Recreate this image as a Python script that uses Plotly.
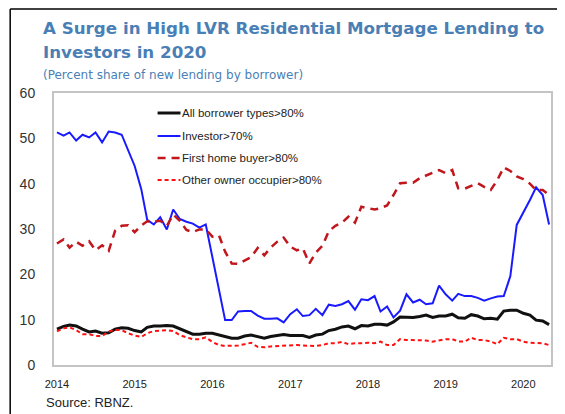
import pandas as pd
import plotly.graph_objects as go

months = pd.date_range("2014-01-01", periods=77, freq="MS")

all_borrower = [
    7.9, 8.5, 8.8, 8.6, 7.9, 7.3, 7.5, 7.0, 7.1, 7.9,
    8.2, 8.1, 7.6, 7.3, 8.3, 8.6, 8.6, 8.7, 8.6, 8.0,
    7.4, 6.8, 6.8, 7.0, 7.0, 6.6, 6.3, 5.9, 5.9, 6.4,
    6.6, 6.3, 5.9, 6.3, 6.5, 6.7, 6.5, 6.5, 6.5, 6.1,
    6.6, 6.8, 7.6, 7.9, 8.4, 8.6, 8.0, 8.7, 8.6, 9.0,
    9.0, 8.8, 9.5, 10.6, 10.5, 10.5, 10.7, 11.0, 10.5, 10.8,
    10.8, 11.2, 10.4, 10.3, 11.1, 10.8, 10.2, 10.3, 10.1, 11.9,
    12.1, 12.1, 11.4, 11.0, 9.9, 9.7, 8.9,
]

investor = [
    51.3, 50.6, 51.3, 49.5, 50.8, 50.2, 51.3, 49.1, 51.5, 51.3,
    50.8, 47.6, 43.9, 38.8, 32.0, 31.0, 32.6, 29.9, 34.3, 32.2,
    31.6, 31.2, 30.3, 31.0, 24.0, 17.0, 9.9, 9.9, 11.8, 11.9,
    11.9, 10.9, 10.2, 10.2, 10.3, 9.4, 11.2, 12.3, 10.8, 11.0,
    12.4, 11.0, 13.3, 13.0, 13.4, 14.1, 12.2, 14.5, 14.3, 15.2,
    11.8, 12.9, 10.5, 12.0, 15.6, 13.8, 14.4, 13.4, 13.6, 17.5,
    15.6, 14.2, 15.7, 15.2, 15.2, 14.8, 14.2, 14.7, 15.1, 15.2,
    19.6, 30.9, 33.5, 36.4, 39.2, 37.5, 31.0,
]

first_home = [
    26.8, 27.7, 25.9, 27.2, 26.3, 27.3, 25.3, 26.4, 25.2, 29.6,
    30.7, 30.8, 29.3, 30.8, 31.7, 31.6, 31.8, 30.7, 33.2, 31.8,
    29.8, 29.3, 29.9, 29.9, 28.3, 28.6, 25.0, 22.4, 22.3, 23.1,
    23.8, 25.8, 24.2, 25.9, 27.2, 28.1, 26.1, 25.3, 25.7, 22.4,
    24.8, 26.3, 29.5, 30.7, 31.4, 32.7, 31.4, 34.9, 34.6, 34.3,
    34.6, 35.2, 37.5, 40.1, 40.2, 40.2, 41.2, 41.8, 42.3, 43.0,
    42.3, 43.0, 39.0, 38.9, 39.5, 40.1, 39.3, 38.6, 40.8, 43.6,
    42.8, 41.6, 41.0, 40.0, 38.6, 38.6, 37.5,
]

other_owner = [
    7.4, 8.1, 8.3, 7.7, 6.8, 6.8, 6.4, 6.4, 7.4, 7.7,
    7.7, 7.0, 6.5, 6.2, 7.0, 7.5, 7.6, 7.7, 7.5, 6.6,
    6.1, 5.7, 5.7, 6.1, 5.1, 4.4, 4.2, 4.2, 4.3, 4.6,
    4.9, 4.0, 3.9, 4.1, 4.2, 4.35, 4.4, 4.4, 4.3, 4.2,
    4.2, 4.4, 4.8, 4.8, 5.1, 4.6, 4.8, 4.8, 4.9, 4.8,
    5.15, 4.4, 4.4, 5.7, 5.5, 5.5, 5.5, 5.4, 5.15, 5.5,
    5.7, 5.7, 5.2, 5.15, 6.0, 5.5, 5.5, 5.2, 4.6, 6.0,
    5.7, 5.7, 5.15, 4.9, 4.9, 4.8, 4.4,
]

series = [
    ("All borrower types>80%", all_borrower, "#111111", 3, "solid"),
    ("Investor>70%", investor, "#1a1aff", 2, "solid"),
    ("First home buyer>80%", first_home, "#c0161c", 2.5, "8px,6px"),
    ("Other owner occupier>80%", other_owner, "#ff1010", 2, "4px,3px"),
]

year_ticks = ["2014", "2015", "2016", "2017", "2018", "2019", "2020"]
y_ticks = [0, 10, 20, 30, 40, 50, 60]

fig = go.Figure()
for name, vals, color, width, dash in series:
    fig.add_trace(go.Scatter(
        x=months, y=vals, mode="lines", name=name, showlegend=False,
        line=dict(color=color, width=width, dash=dash),
    ))

# page body has an 8px default margin: work in window pixels, shift by 8
OFF = 8
W, H = 565 - OFF, 414 - OFF
L, R, T, B = 54 - OFF, 12, 93 - OFF, 49
pw, ph = W - L - R, H - T - B


def px(x):
    return (x - OFF - L) / pw


def py(y):
    return (H - B - (y - OFF)) / ph


shapes = [
    dict(type="line", xref="paper", yref="paper", x0=px(10), x1=px(10),
         y0=py(430), y1=py(9), line=dict(color="#000000", width=1.5)),
    dict(type="line", xref="paper", yref="paper", x0=px(10), x1=px(580),
         y0=py(9), y1=py(9), line=dict(color="#000000", width=1.5)),
]

title_font = "DejaVu Sans"
annotations = [
    dict(text="<b>A Surge in High LVR Residential Mortgage Lending to</b>",
         x=px(41), y=py(28), xanchor="left", yanchor="middle",
         font=dict(size=16.7, color="#4a7fb5", family=title_font)),
    dict(text="<b>Investors in 2020</b>",
         x=px(41), y=py(52), xanchor="left", yanchor="middle",
         font=dict(size=16.7, color="#4a7fb5", family=title_font)),
    dict(text="(Percent share of new lending by borrower)",
         x=px(41), y=py(75), xanchor="left", yanchor="middle",
         font=dict(size=12, color="#4a7fb5", family="DejaVu Sans")),
    dict(text="Source: RBNZ.",
         x=px(44), y=py(402), xanchor="left", yanchor="middle",
         font=dict(size=13, color="#222222", family="Liberation Sans")),
]

legend_rows = [113, 136, 158, 180]
for (name, vals, color, width, dash), ry in zip(series, legend_rows):
    shapes.append(dict(type="line", xref="paper", yref="paper",
                       x0=px(158), x1=px(181), y0=py(ry), y1=py(ry),
                       line=dict(color=color, width=width, dash=dash)))
    annotations.append(dict(text=name, x=px(181), y=py(ry), xanchor="left",
                            yanchor="middle", showarrow=False,
                            font=dict(size=11.5, color="#222222",
                                      family="Liberation Sans")))

for a in annotations:
    a.setdefault("showarrow", False)
    a["xref"] = "paper"
    a["yref"] = "paper"

fig.update_layout(
    width=W, height=H, autosize=False,
    margin=dict(l=L, r=R, t=T, b=B),
    paper_bgcolor="white", plot_bgcolor="white",
    shapes=shapes, annotations=annotations,
    showlegend=False,
    xaxis=dict(
        type="date",
        range=["2013-12-18", "2020-05-10"],
        tickvals=[f"{y}-01-01" for y in year_ticks],
        ticktext=year_ticks,
        showgrid=False, zeroline=False, ticks="",
        showline=True, mirror=True, linecolor="#c4c4c4", linewidth=2,
        tickfont=dict(size=11, color="#222222", family="Liberation Sans"),
        ticklabelstandoff=8,
    ),
    yaxis=dict(
        range=[0, 60], tickvals=y_ticks,
        showgrid=False, zeroline=False, ticks="",
        showline=True, mirror=True, linecolor="#c4c4c4", linewidth=2,
        tickfont=dict(size=14, color="#333333", family="Liberation Sans"),
        ticklabelstandoff=14,
    ),
)

fig.write_html("out.html")
